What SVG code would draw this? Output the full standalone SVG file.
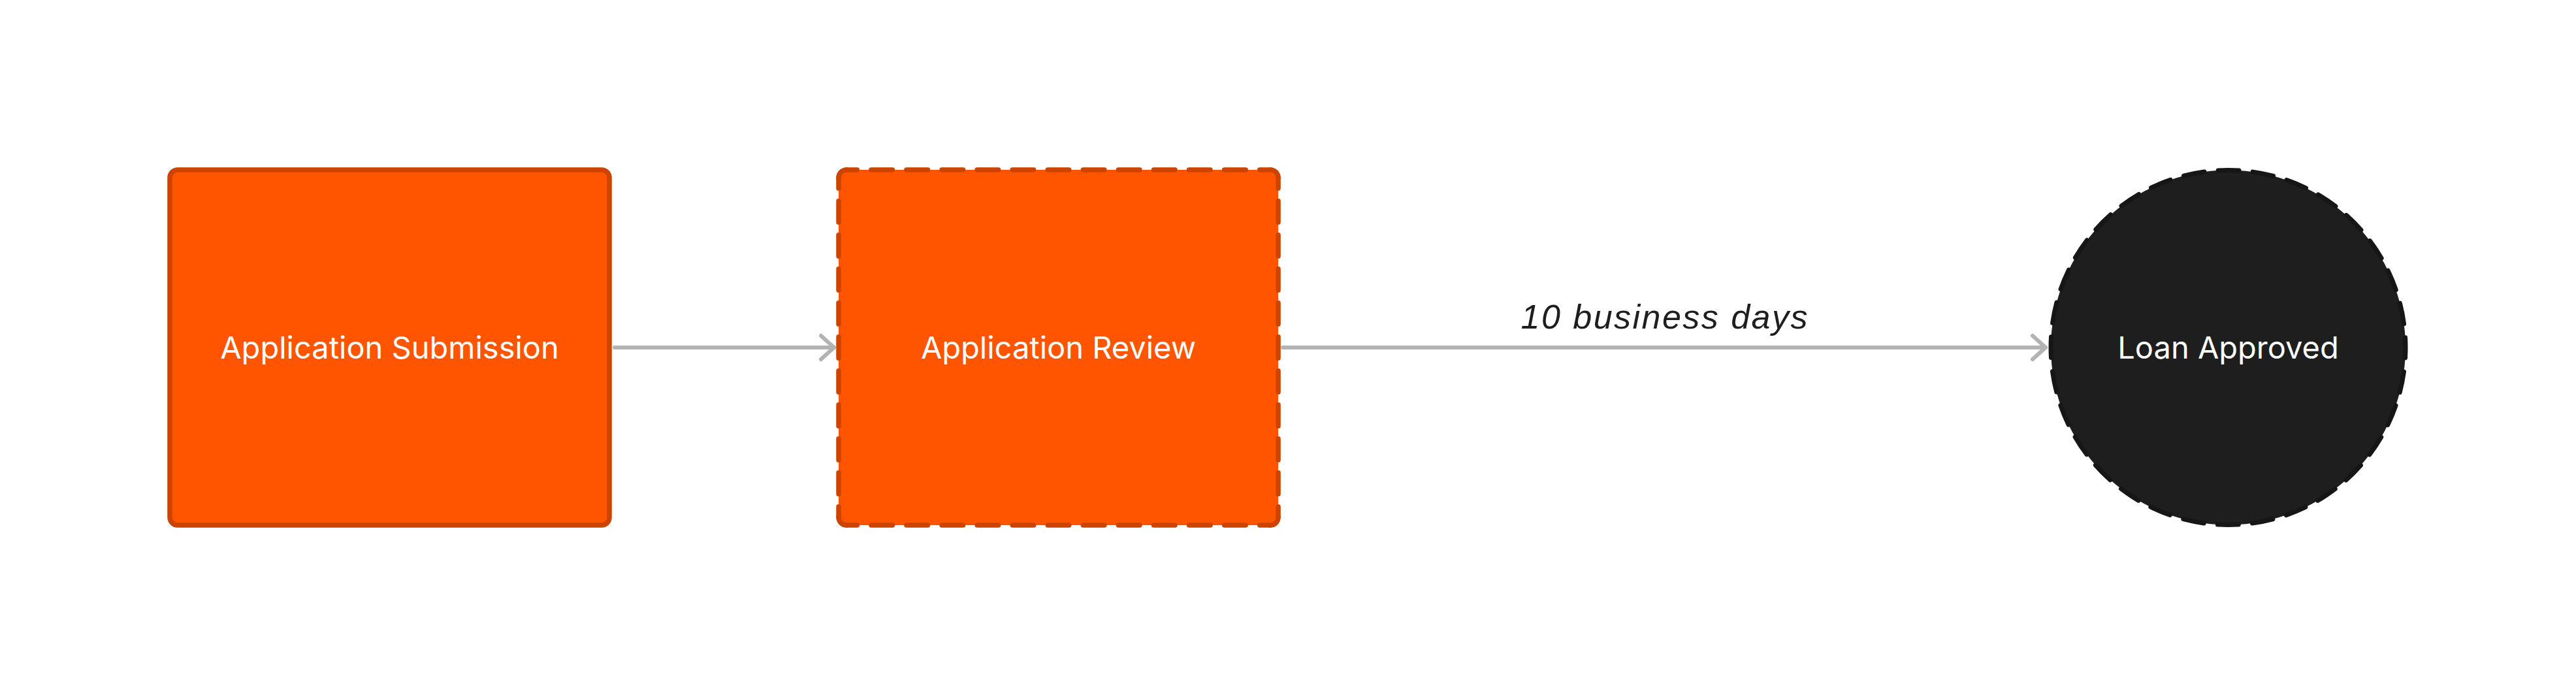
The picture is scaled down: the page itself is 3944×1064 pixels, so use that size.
<svg xmlns="http://www.w3.org/2000/svg" width="3944" height="1064" viewBox="0 0 3944 1064">
  <style>
    .box { fill: #ff5500; }
    .solid { fill: #ff5500; stroke: #cc4400; stroke-width: 7.5; }
    .dash-edge { fill: none; stroke: #cc4400; stroke-width: 7.5; stroke-linecap: round; }
    .h-edge { stroke-dasharray: 32.5 21.58; stroke-dashoffset: 16.25; }
    .v-edge { stroke-dasharray: 32.5 19.5; stroke-dashoffset: 16.25; }
    .corner { fill: none; stroke: #cc4400; stroke-width: 7.5; stroke-linecap: round; }
    .node-label { font-family: Inter, "Liberation Sans", sans-serif; font-size: 47px; fill: #ffffff; text-anchor: middle; }
    .edge { fill: none; stroke: #b3b3b3; stroke-width: 6; stroke-linecap: round; }
    .edge-label { font-family: "Liberation Sans", "DejaVu Sans", sans-serif; font-style: italic; font-size: 52px; fill: #1e1e1e; text-anchor: middle; }
  </style>
  <defs>
    <marker id="chevron" markerUnits="userSpaceOnUse" viewBox="-26 -24 32 48" markerWidth="32" markerHeight="48" refX="0" refY="0" orient="auto" overflow="visible">
      <path d="M -20 -18 L 0 0 L -20 18" fill="none" stroke="#b3b3b3" stroke-width="6" stroke-linecap="round" stroke-linejoin="round"/>
    </marker>
  </defs>
  <rect width="3944" height="1064" fill="#ffffff"/>

  <g id="edges">
    <line class="edge" x1="941" y1="532" x2="1277" y2="532" marker-end="url(#chevron)"/>
    <line class="edge" x1="1964" y1="532" x2="3132" y2="532" marker-end="url(#chevron)"/>
    <text class="edge-label" x="2548" y="503" textLength="439" lengthAdjust="spacing">10 business days</text>
  </g>

  <g id="node-application-submission">
    <rect class="solid" x="260" y="260" width="673" height="544" rx="12" ry="12"/>
    <text class="node-label" x="596.5" y="549">Application Submission</text>
  </g>

  <g id="node-application-review">
    <rect class="box" x="1284" y="260" width="673" height="544" rx="12" ry="12"/>
    <path class="corner" d="M 1284 272 A 12 12 0 0 1 1296 260"/>
    <path class="corner" d="M 1945 260 A 12 12 0 0 1 1957 272"/>
    <path class="corner" d="M 1957 792 A 12 12 0 0 1 1945 804"/>
    <path class="corner" d="M 1296 804 A 12 12 0 0 1 1284 792"/>
    <line class="dash-edge h-edge" x1="1296" y1="260" x2="1945" y2="260"/>
    <line class="dash-edge v-edge" x1="1957" y1="272" x2="1957" y2="792"/>
    <line class="dash-edge h-edge" x1="1945" y1="804" x2="1296" y2="804"/>
    <line class="dash-edge v-edge" x1="1284" y1="792" x2="1284" y2="272"/>
    <text class="node-label" x="1620.5" y="549">Application Review</text>
  </g>

  <g id="node-loan-approved">
    <circle cx="3411.5" cy="532" r="271.5" fill="#1e1e1e"/>
    <circle cx="3411.5" cy="532" r="271.5" fill="none" stroke="#161616" stroke-width="7" stroke-linecap="round" stroke-dasharray="32 21.31" stroke-dashoffset="16"/>
    <text class="node-label" x="3411.5" y="549">Loan Approved</text>
  </g>
</svg>
